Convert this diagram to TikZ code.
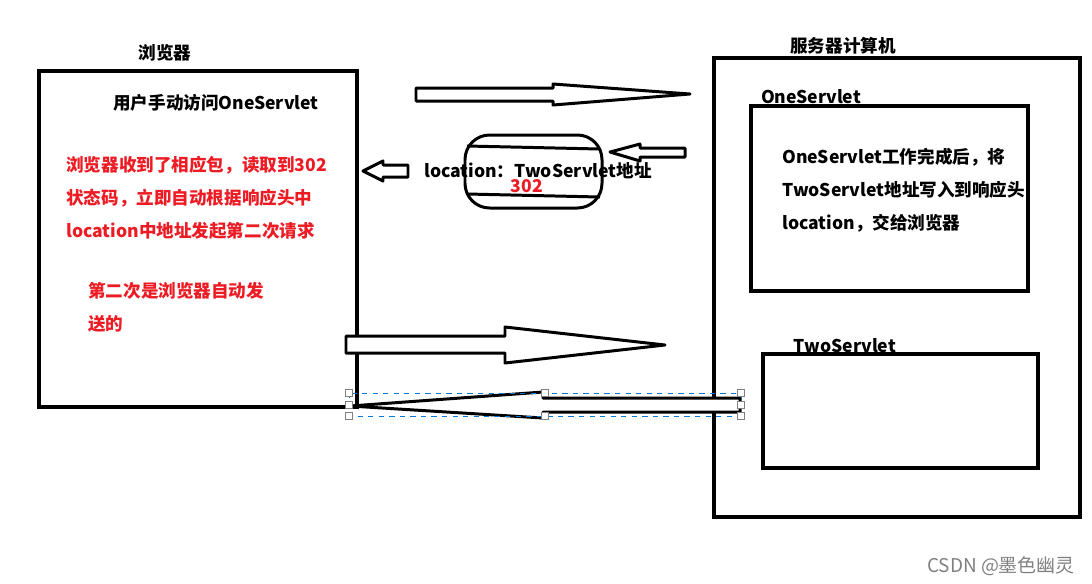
\documentclass[tikz,border=0pt]{standalone}
\usepackage{fontspec}
\setmainfont{Noto Sans CJK SC}
\usepackage{tikz}
\usetikzlibrary{positioning}

\definecolor{redtxt}{RGB}{237,28,36}
\definecolor{selblue}{RGB}{0,120,215}

\begin{document}
\begin{tikzpicture}[x=0.02cm, y=-0.02cm,
    box/.style = {draw, line width=2.3pt},
    blockarrow/.style = {draw, line width=1.7pt, line join=round, fill=white},
    title/.style = {font=\fontsize{10}{11}\selectfont\bfseries, inner sep=0pt},
    note/.style = {font=\fontsize{10}{18.7}\selectfont\bfseries, inner sep=0pt, align=left, anchor=north west},
    handle/.style = {draw=gray, fill=white, line width=0.4pt, minimum size=4pt, inner sep=0pt}]
    \useasboundingbox (0,0) rectangle (1092,583);

    % browser side
    \draw [box] (39,71) rectangle (357,407);
    \node (browser) [title] at (165,53) {浏览器};
    \node (manual) [title] at (216,103) {用户手动访问OneServlet};
    \node (recv) [note, text=redtxt] at (66,156) {浏览器收到了相应包，读取到302\\状态码，立即自动根据响应头中\\location中地址发起第二次请求};
    \node (auto) [note, text=redtxt] at (88,282) {第二次是浏览器自动发\\送的};

    % server side
    \draw [box] (714,58) rectangle (1080,517);
    \node (server) [title] at (843,46) {服务器计算机};
    \draw [box] (751,106) rectangle (1028,291);
    \node (one) [title] at (811,97) {OneServlet};
    \node (onework) [note] at (782,148) {OneServlet工作完成后，将\\TwoServlet地址写入到响应头\\location，交给浏览器};
    \draw [box] (763,354) rectangle (1038,468);
    \node (two) [title] at (845,346) {TwoServlet};

    % response packet
    \draw [blockarrow, rounded corners=14] (465,135) rectangle (602,208);
    \draw [line width=1.7pt] (467,146) -- (600,149);
    \draw [line width=1.7pt] (467,194) -- (600,197);
    \node (loc) [title] at (538,171) {location：TwoServlet地址};
    \node (code) [title, text=redtxt] at (527,186) {302};

    % requests and responses
    \draw [blockarrow] (416,88) -- (553,88) -- (553,84) -- (690,94) -- (553,105) -- (553,101) -- (416,101) -- cycle;
    \draw [blockarrow] (685,148) -- (640,148) -- (640,144) -- (610,152) -- (640,161) -- (640,157) -- (685,157) -- cycle;
    \draw [blockarrow] (408,165) -- (383,165) -- (383,161) -- (363,171) -- (383,181) -- (383,177) -- (408,177) -- cycle;
    \draw [blockarrow] (346,336) -- (505,336) -- (505,327) -- (665,345) -- (505,363) -- (505,353) -- (346,353) -- cycle;
    \draw [blockarrow] (740,398) -- (543,398) -- (543,392) -- (350,406) -- (543,418) -- (543,412) -- (740,412) -- cycle;

    % selection frame
    \draw [selblue, dashed, line width=0.4pt] (349,393) rectangle (741,416);
    \foreach \hx in {349,545,741}
      \foreach \hy in {393,416}
        \node [handle] at (\hx,\hy) {};
    \node [handle] at (349,405) {};
    \node [handle] at (741,405) {};

    \node (mark) [font=\fontsize{10.8}{12}\selectfont, text=gray, inner sep=0pt] at (1001,566) {CSDN @墨色幽灵};
\end{tikzpicture}
\end{document}
